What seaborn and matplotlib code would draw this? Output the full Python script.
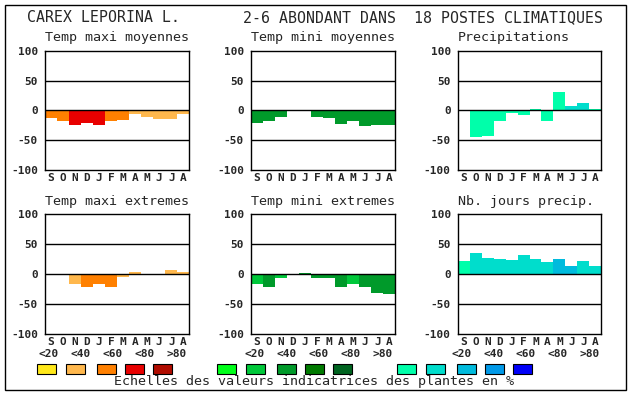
import numpy as np
import pandas as pd
import matplotlib
matplotlib.use('Agg')
import matplotlib.pyplot as plt
from matplotlib.patches import Rectangle
import seaborn as sns

# Monthly deviations (%) for the six climatic panels, Sept -> Aug
months = ['S', 'O', 'N', 'D', 'J', 'F', 'M', 'A', 'M', 'J', 'J', 'A']

tmax_moy = [-12, -18, -24, -21, -24, -18, -16, -6, -11, -14, -14, -6]
tmax_moy_lvl = [2, 2, 3, 3, 3, 2, 2, 1, 1, 1, 1, 1]

tmin_moy = [-21, -18, -11, 0, 0, -11, -13, -23, -18, -26, -24, -24]
tmin_moy_lvl = [2, 2, 2, 2, 2, 2, 2, 2, 2, 2, 2, 2]

precip = [0, -44, -43, -18, -4, -8, 2, -18, 30, 7, 13, 2]
precip_lvl = [0, 0, 0, 0, 0, 0, 0, 0, 0, 1, 1, 0]

tmax_ext = [0, 0, -16, -22, -17, -21, -4, 4, -2, -2, 7, 4]
tmax_ext_lvl = [1, 1, 1, 2, 2, 2, 1, 1, 1, 1, 1, 1]

tmin_ext = [-17, -21, -7, 0, 2, -6, -7, -22, -17, -22, -31, -34]
tmin_ext_lvl = [1, 2, 1, 2, 2, 2, 2, 2, 1, 2, 2, 2]

nb_jours = [22, 35, 27, 25, 24, 32, 25, 20, 25, 14, 22, 14]
nb_jours_lvl = [0, 1, 1, 1, 1, 1, 1, 1, 2, 2, 1, 1]

# colour scales (indicator value classes)
scale_labels = ['<20', '<40', '<60', '<80', '>80']
orange_scale = ['#FFE81A', '#FFB84D', '#FF8000', '#E80000', '#B00C00']
green_scale = ['#00FF1A', '#00C83A', '#009A2A', '#007A00', '#006420']
blue_scale = ['#00FFAA', '#00DDCC', '#00BBDD', '#0099E8', '#0000F8']

yticks = [-100, -50, 0, 50, 100]

sns.set_style('white')
plt.rcParams['font.family'] = ['DejaVu Sans Mono']

W, H = 630, 394
fig = plt.figure(figsize=(W / 100, H / 100), dpi=100)


def px_axes(left, top, right, bottom):
    return fig.add_axes([left / W, 1 - bottom / H, (right - left) / W, (bottom - top) / H])


panels = [
    ('Temp maxi moyennes', tmax_moy, tmax_moy_lvl, orange_scale, (45, 50.7, 189.3, 170)),
    ('Temp mini moyennes', tmin_moy, tmin_moy_lvl, green_scale, (251, 50.7, 395.3, 170)),
    ('Precipitations', precip, precip_lvl, blue_scale, (457.7, 50.7, 601.3, 170)),
    ('Temp maxi extremes', tmax_ext, tmax_ext_lvl, orange_scale, (45, 214.3, 189.3, 334)),
    ('Temp mini extremes', tmin_ext, tmin_ext_lvl, green_scale, (251, 214.3, 395.3, 334)),
    ('Nb. jours precip.', nb_jours, nb_jours_lvl, blue_scale, (457.7, 214.3, 601.3, 334)),
]

for title, vals, lvls, scale, box in panels:
    ax = px_axes(*box)
    df = pd.DataFrame({'pos': range(12), 'val': vals})
    cols = [scale[l] for l in lvls]
    sns.barplot(data=df, x='pos', y='val', hue='pos', palette=cols, width=1.0,
                saturation=1, legend=False, ax=ax, linewidth=0, edgecolor='none')
    for y in [-50, 0, 50]:
        ax.axhline(y, color='black', lw=1.0, zorder=3)
    ax.set_xlim(-0.5, 11.5)
    ax.set_ylim(-100, 100)
    ax.set_yticks(yticks)
    ax.set_yticklabels([str(t) for t in yticks], fontsize=8, fontweight='bold')
    ax.set_xticks(range(12))
    ax.set_xticklabels(months, fontsize=8, fontweight='bold')
    ax.tick_params(axis='y', length=0, pad=5)
    ax.tick_params(axis='x', length=0, pad=2)
    ax.set_xlabel('')
    ax.set_ylabel('')
    for s in ax.spines.values():
        s.set_color('black')
        s.set_linewidth(1.0)
        s.set_zorder(4)
    ax.text(0, 1 + 12.7 / 119.3, title, transform=ax.transAxes, ha='left', va='center',
            fontsize=9.6)

# header
fig.text(27 / W, 1 - 18 / H, 'CAREX LEPORINA L.', ha='left', va='center', fontsize=10.7)
fig.text(243 / W, 1 - 18 / H, '2-6 ABONDANT DANS  18 POSTES CLIMATIQUES', ha='left',
         va='center', fontsize=10.7)

# legend scales
label_lefts = [45, 251, 457.7]
swatch_lefts = [37, 217, 397]
swatch_offsets = [0, 28.5, 60, 88, 116]
for lab_left, sw_left, scale in zip(label_lefts, swatch_lefts, [orange_scale, green_scale, blue_scale]):
    for i, (lab, col) in enumerate(zip(scale_labels, scale)):
        fig.text((lab_left + 4 + 32 * i) / W, 1 - 354 / H, lab, ha='center', va='center',
                 fontsize=8, fontweight='bold')
        x0 = sw_left + swatch_offsets[i]
        fig.patches.append(Rectangle((x0 / W, 1 - 373.5 / H), 19 / W, 9.5 / H,
                                     transform=fig.transFigure, facecolor=col,
                                     edgecolor='black', lw=0.8))

fig.text(314.5 / W, 1 - 382 / H, 'Echelles des valeurs indicatrices des plantes en %',
         ha='center', va='center', fontsize=9.6)

# outer frame
fig.patches.append(Rectangle((4.5 / W, 1 - 390 / H), 621.5 / W, 385.5 / H,
                             transform=fig.transFigure, fill=False, edgecolor='black', lw=1.0))

fig.savefig('out.png', dpi=100)
